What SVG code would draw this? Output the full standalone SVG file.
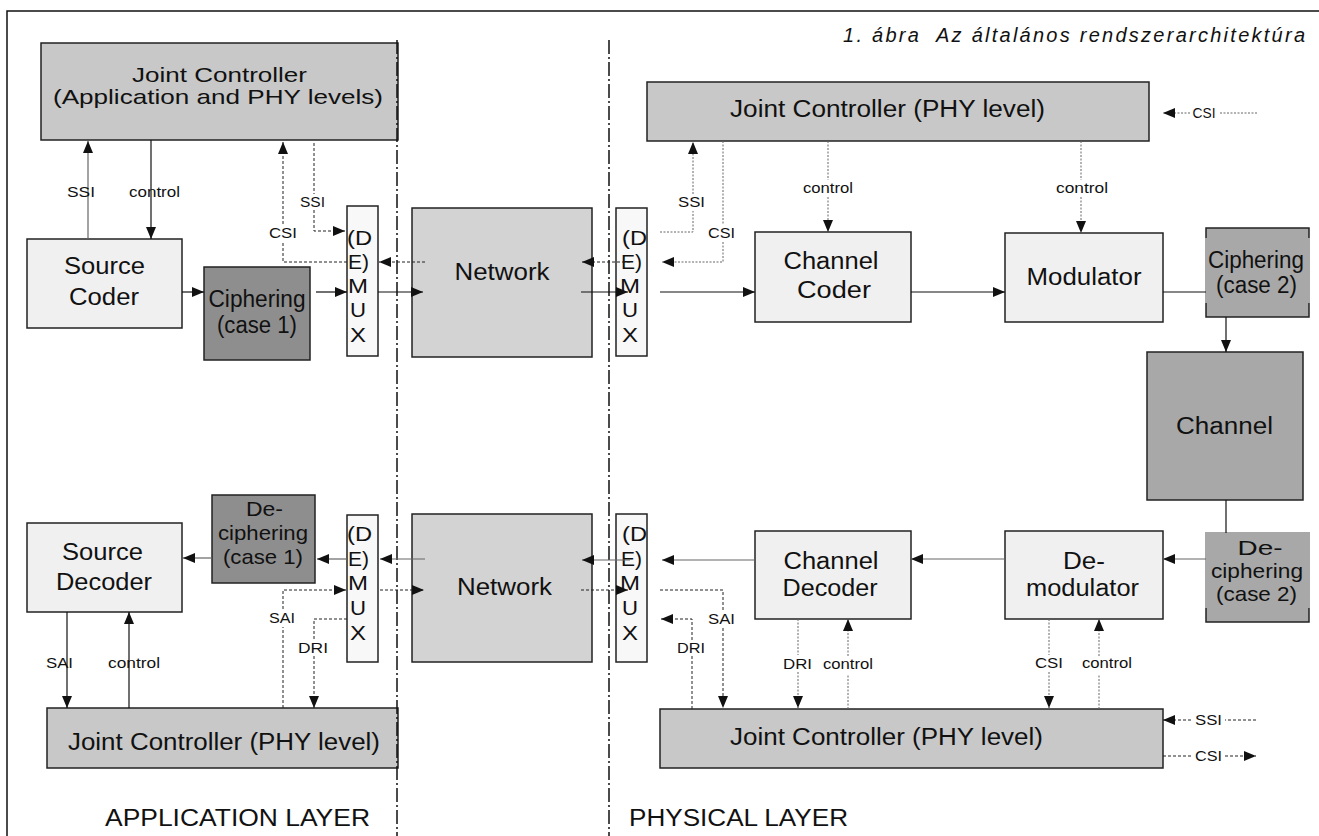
<svg xmlns="http://www.w3.org/2000/svg" width="1319" height="836" viewBox="0 0 1319 836">
<defs>
<marker id="ah" viewBox="0 0 12 10" refX="12" refY="5" markerWidth="12" markerHeight="10" markerUnits="userSpaceOnUse" orient="auto"><path d="M0,0 L12,5 L0,10 z" fill="#111"/></marker>
</defs>
<style>
text{font-family:"Liberation Sans",Arial,sans-serif;fill:#111}
.b{font-size:23px;text-anchor:middle}
.b2{font-size:21px;text-anchor:middle}
.s{font-size:15px;text-anchor:middle}
.m{font-size:20px}
.box{stroke:#222;stroke-width:1.5}
.jc{fill:#c8c8c8}
.lt{fill:#f0f0f0}
.nw{fill:#d3d3d3}
.dk{fill:#8e8e8e}
.md{fill:#a8a8a8}
.dm{fill:#f8f8f8}
.c{fill:none;stroke:#111;stroke-width:1.2}
.g{fill:none;stroke:#666;stroke-width:1.2}
.d{fill:none;stroke:#222;stroke-width:1;stroke-dasharray:3 2}
.dg{fill:none;stroke:#666;stroke-width:1;stroke-dasharray:2 1.5}
.a{marker-end:url(#ah)}
.sep{stroke:#111;stroke-width:1.5;stroke-dasharray:14 3 2 3;fill:none}
.fr{stroke:#111;stroke-width:1.5;fill:none}
</style>
<rect width="1319" height="836" fill="#fff"/>
<path class="fr" d="M7,836 V11 H1319"/>
<text x="843" y="42" font-style="italic" font-size="20" textLength="462" lengthAdjust="spacing">1. ábra&#160; Az általános rendszerarchitektúra</text>

<g id="jc-app">
<rect class="box jc" x="41" y="43" width="357" height="97"/>
<text class="b2" x="219.5" y="82" textLength="175" lengthAdjust="spacingAndGlyphs">Joint Controller</text>
<text class="b2" x="218" y="104" textLength="330" lengthAdjust="spacingAndGlyphs">(Application and PHY levels)</text>
</g>
<g id="source-coder">
<rect class="box lt" x="27" y="239" width="155" height="89"/>
<text class="b" x="104.5" y="274" textLength="81" lengthAdjust="spacingAndGlyphs">Source</text>
<text class="b" x="104" y="305" textLength="70" lengthAdjust="spacingAndGlyphs">Coder</text>
</g>
<g id="ciphering1">
<rect class="box dk" x="204" y="267" width="106" height="93"/>
<text class="b" x="257" y="307" textLength="97" lengthAdjust="spacingAndGlyphs">Ciphering</text>
<text class="b" x="257" y="333" textLength="80" lengthAdjust="spacingAndGlyphs">(case 1)</text>
</g>
<g id="demux-tl">
<rect class="box dm" x="347" y="206" width="31" height="150"/>
<text class="m" x="347" y="245" textLength="25" lengthAdjust="spacingAndGlyphs">(D</text>
<text class="m" x="348" y="269" textLength="21" lengthAdjust="spacingAndGlyphs">E)</text>
<text class="m" x="348" y="293" textLength="20" lengthAdjust="spacingAndGlyphs">M</text>
<text class="m" x="350" y="317" textLength="16" lengthAdjust="spacingAndGlyphs">U</text>
<text class="m" x="350" y="342" textLength="16" lengthAdjust="spacingAndGlyphs">X</text>
</g>
<g id="network-top">
<rect class="box nw" x="412" y="208" width="180" height="149"/>
<text class="b" x="502" y="280" textLength="95" lengthAdjust="spacingAndGlyphs">Network</text>
</g>
<g id="demux-tr">
<rect class="box dm" x="616" y="208" width="31" height="148"/>
<text class="m" x="622" y="245" textLength="25" lengthAdjust="spacingAndGlyphs">(D</text>
<text class="m" x="621" y="269" textLength="21" lengthAdjust="spacingAndGlyphs">E)</text>
<text class="m" x="620" y="293" textLength="20" lengthAdjust="spacingAndGlyphs">M</text>
<text class="m" x="622" y="317" textLength="16" lengthAdjust="spacingAndGlyphs">U</text>
<text class="m" x="622" y="342" textLength="16" lengthAdjust="spacingAndGlyphs">X</text>
</g>
<g id="jc-phy-top">
<rect class="box jc" x="647" y="82" width="502" height="59"/>
<text class="b" x="887.5" y="117" textLength="315" lengthAdjust="spacingAndGlyphs">Joint Controller (PHY level)</text>
</g>
<g id="channel-coder">
<rect class="box lt" x="755" y="232" width="156" height="90"/>
<text class="b" x="831" y="269" textLength="95" lengthAdjust="spacingAndGlyphs">Channel</text>
<text class="b" x="834" y="298" textLength="74" lengthAdjust="spacingAndGlyphs">Coder</text>
</g>
<g id="modulator">
<rect class="box lt" x="1005" y="233" width="158" height="89"/>
<text class="b" x="1084" y="285" textLength="115" lengthAdjust="spacingAndGlyphs">Modulator</text>
</g>
<g id="ciphering2">
<rect class="box md" x="1206" y="228" width="103" height="89"/>
<rect class="md" x="1205" y="238" width="105" height="65"/>
<text class="b" x="1256" y="268" textLength="96" lengthAdjust="spacingAndGlyphs">Ciphering</text>
<text class="b" x="1256.5" y="293" textLength="81" lengthAdjust="spacingAndGlyphs">(case 2)</text>
</g>
<g id="channel">
<rect class="box md" x="1147" y="352" width="156" height="148"/>
<text class="b" x="1224.5" y="434" textLength="97" lengthAdjust="spacingAndGlyphs">Channel</text>
</g>
<g id="deciphering2">
<rect class="box md" x="1206" y="533" width="103" height="89"/>
<rect class="md" x="1205" y="532" width="105" height="76"/>
<text class="b2" x="1260" y="555" textLength="45" lengthAdjust="spacingAndGlyphs">De-</text>
<text class="b2" x="1257" y="578" textLength="92" lengthAdjust="spacingAndGlyphs">ciphering</text>
<text class="b2" x="1256.5" y="601" textLength="81" lengthAdjust="spacingAndGlyphs">(case 2)</text>
</g>
<g id="demodulator">
<rect class="box lt" x="1005" y="531" width="158" height="88"/>
<text class="b" x="1084" y="569" textLength="42" lengthAdjust="spacingAndGlyphs">De-</text>
<text class="b" x="1082.5" y="596" textLength="113" lengthAdjust="spacingAndGlyphs">modulator</text>
</g>
<g id="channel-decoder">
<rect class="box lt" x="755" y="531" width="156" height="88"/>
<text class="b" x="831" y="569" textLength="95" lengthAdjust="spacingAndGlyphs">Channel</text>
<text class="b" x="830" y="596" textLength="95" lengthAdjust="spacingAndGlyphs">Decoder</text>
</g>
<g id="demux-br">
<rect class="box dm" x="616" y="514" width="31" height="148"/>
<text class="m" x="622" y="541" textLength="25" lengthAdjust="spacingAndGlyphs">(D</text>
<text class="m" x="621" y="566" textLength="21" lengthAdjust="spacingAndGlyphs">E)</text>
<text class="m" x="620" y="590" textLength="20" lengthAdjust="spacingAndGlyphs">M</text>
<text class="m" x="622" y="615" textLength="16" lengthAdjust="spacingAndGlyphs">U</text>
<text class="m" x="622" y="640" textLength="16" lengthAdjust="spacingAndGlyphs">X</text>
</g>
<g id="network-bottom">
<rect class="box nw" x="412" y="514" width="180" height="148"/>
<text class="b" x="504.5" y="595" textLength="95" lengthAdjust="spacingAndGlyphs">Network</text>
</g>
<g id="demux-bl">
<rect class="box dm" x="347" y="515" width="31" height="147"/>
<text class="m" x="347" y="541" textLength="25" lengthAdjust="spacingAndGlyphs">(D</text>
<text class="m" x="348" y="566" textLength="21" lengthAdjust="spacingAndGlyphs">E)</text>
<text class="m" x="348" y="590" textLength="20" lengthAdjust="spacingAndGlyphs">M</text>
<text class="m" x="350" y="615" textLength="16" lengthAdjust="spacingAndGlyphs">U</text>
<text class="m" x="350" y="640" textLength="16" lengthAdjust="spacingAndGlyphs">X</text>
</g>
<g id="deciphering1">
<rect class="box dk" x="212" y="495" width="103" height="88"/>
<text class="b2" x="264.5" y="516" textLength="37" lengthAdjust="spacingAndGlyphs">De-</text>
<text class="b2" x="263" y="540" textLength="90" lengthAdjust="spacingAndGlyphs">ciphering</text>
<text class="b2" x="263" y="564" textLength="80" lengthAdjust="spacingAndGlyphs">(case 1)</text>
</g>
<g id="source-decoder">
<rect class="box lt" x="27" y="523" width="155" height="89"/>
<text class="b" x="102.5" y="560" textLength="81" lengthAdjust="spacingAndGlyphs">Source</text>
<text class="b" x="104" y="590" textLength="96" lengthAdjust="spacingAndGlyphs">Decoder</text>
</g>
<g id="jc-phy-app">
<rect class="box jc" x="47" y="708" width="351" height="60"/>
<text class="b" x="224" y="750" textLength="312" lengthAdjust="spacingAndGlyphs">Joint Controller (PHY level)</text>
</g>
<g id="jc-phy-bottom">
<rect class="box jc" x="660" y="709" width="503" height="59"/>
<text class="b" x="886.5" y="745" textLength="313" lengthAdjust="spacingAndGlyphs">Joint Controller (PHY level)</text>
</g>

<g id="separators">
<path class="sep" d="M397,40 V836"/>
<path class="sep" d="M609,40 V836"/>
</g>

<g id="connectors">
<path class="g a" d="M88,239 V141"/>
<path class="c a" d="M151,140 V239"/>
<path class="c a" d="M182,292 H204"/>
<path class="c a" d="M316,292 H347"/>
<path class="c a" d="M378,292 H423"/>
<path class="c a" d="M581,292 H628"/>
<path class="c a" d="M660,292 H755"/>
<path class="c a" d="M911,292 H1005"/>
<path class="c" d="M1163,292 H1206"/>
<path class="c a" d="M1226,317 V352"/>
<path class="c" d="M1226,500 V533"/>
<path class="g a" d="M1206,559 H1163"/>
<path class="g a" d="M1005,559 H911"/>
<path class="g a" d="M755,560 H662"/>
<path class="g a" d="M630,560 H582"/>
<path class="g a" d="M425,559 H380"/>
<path class="g a" d="M347,559 H317"/>
<path class="g a" d="M212,558 H183"/>
<path class="c a" d="M67,612 V708"/>
<path class="c a" d="M129,708 V612"/>

<path class="d a" d="M314,143 V194 M314,210 V231 H345"/>
<path class="d a" d="M347,262 H283 V243 M283,224 V142"/>
<path class="d a" d="M425,262 H379"/>
<path class="d a" d="M630,262 H582"/>
<path class="dg a" d="M723,141 V224 M723,242 V262 H662"/>
<path class="dg a" d="M660,232 H693 V211 M693,194 V142"/>
<path class="dg a" d="M828,141 V180 M828,197 V232"/>
<path class="dg a" d="M1081,141 V180 M1081,197 V233"/>
<path class="dg a" d="M1257,113 H1219 M1190,113 H1163"/>

<path class="d a" d="M283,708 V627 M283,609 V590 H346"/>
<path class="d a" d="M380,590 H424"/>
<path class="d a" d="M581,590 H628"/>
<path class="d a" d="M660,590 H723 V610 M723,628 V708"/>
<path class="d a" d="M692,709 V656 M692,640 V619 H661"/>
<path class="d a" d="M347,619 H314 V640 M314,656 V708"/>
<path class="dg a" d="M798,619 V655 M798,672 V708"/>
<path class="dg a" d="M848,709 V674 M848,656 V619"/>
<path class="dg a" d="M1049,619 V655 M1049,672 V708"/>
<path class="dg a" d="M1099,709 V674 M1099,656 V619"/>
<path class="d a" d="M1256,720 H1225 M1191,720 H1163"/>
<path class="d a" d="M1163,756 H1192 M1225,756 H1256"/>
</g>

<g id="labels">
<text class="s" x="81" y="197" textLength="28" lengthAdjust="spacingAndGlyphs">SSI</text>
<text class="s" x="154.5" y="197" textLength="51" lengthAdjust="spacingAndGlyphs">control</text>
<text class="s" x="312.5" y="207" textLength="25" lengthAdjust="spacingAndGlyphs">SSI</text>
<text class="s" x="283" y="238" textLength="28" lengthAdjust="spacingAndGlyphs">CSI</text>
<text class="s" x="691.5" y="207" textLength="27" lengthAdjust="spacingAndGlyphs">SSI</text>
<text class="s" x="721.5" y="238" textLength="27" lengthAdjust="spacingAndGlyphs">CSI</text>
<text class="s" x="828" y="193" textLength="50" lengthAdjust="spacingAndGlyphs">control</text>
<text class="s" x="1082" y="193" textLength="52" lengthAdjust="spacingAndGlyphs">control</text>
<text class="s" x="1204" y="118" textLength="23" lengthAdjust="spacingAndGlyphs">CSI</text>
<text class="s" x="59.5" y="668" textLength="27" lengthAdjust="spacingAndGlyphs">SAI</text>
<text class="s" x="134" y="668" textLength="52" lengthAdjust="spacingAndGlyphs">control</text>
<text class="s" x="282" y="623" textLength="26" lengthAdjust="spacingAndGlyphs">SAI</text>
<text class="s" x="313" y="653" textLength="30" lengthAdjust="spacingAndGlyphs">DRI</text>
<text class="s" x="721.5" y="624" textLength="27" lengthAdjust="spacingAndGlyphs">SAI</text>
<text class="s" x="691" y="653" textLength="28" lengthAdjust="spacingAndGlyphs">DRI</text>
<text class="s" x="797.5" y="669" textLength="29" lengthAdjust="spacingAndGlyphs">DRI</text>
<text class="s" x="848" y="669" textLength="50" lengthAdjust="spacingAndGlyphs">control</text>
<text class="s" x="1049" y="668" textLength="28" lengthAdjust="spacingAndGlyphs">CSI</text>
<text class="s" x="1107" y="668" textLength="50" lengthAdjust="spacingAndGlyphs">control</text>
<text class="s" x="1208.5" y="725" textLength="27" lengthAdjust="spacingAndGlyphs">SSI</text>
<text class="s" x="1208.5" y="761" textLength="27" lengthAdjust="spacingAndGlyphs">CSI</text>
</g>

<text x="105" y="826" font-size="23" textLength="265" lengthAdjust="spacingAndGlyphs">APPLICATION LAYER</text>
<text x="629" y="826" font-size="23" textLength="219" lengthAdjust="spacingAndGlyphs">PHYSICAL LAYER</text>
</svg>
